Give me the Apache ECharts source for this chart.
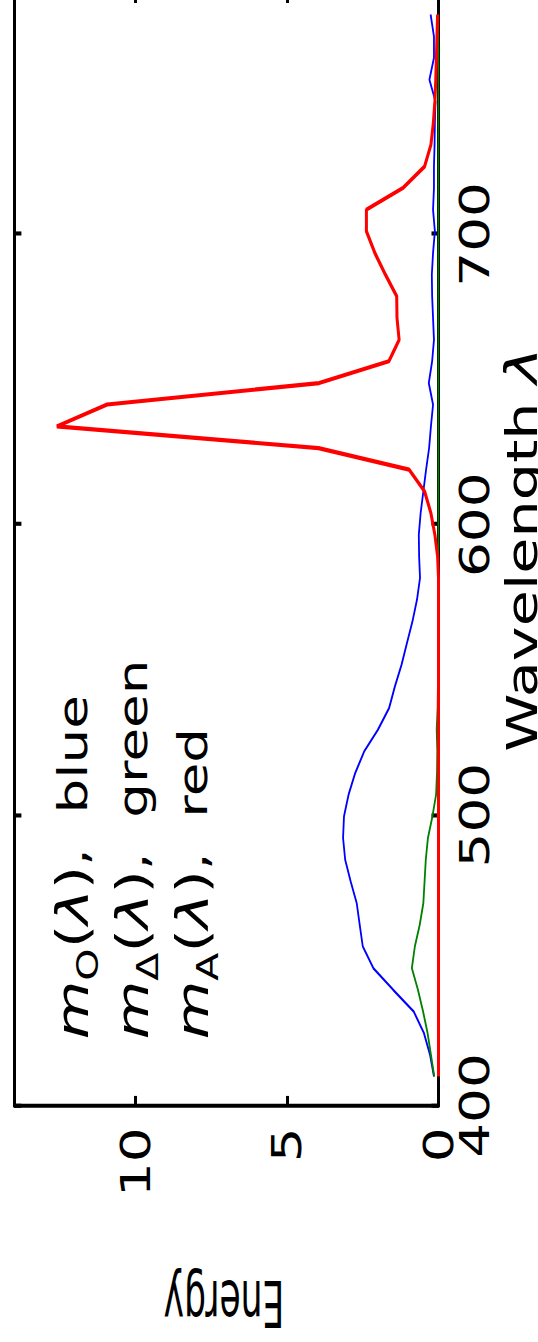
<!DOCTYPE html>
<html>
<head>
<meta charset="utf-8">
<script src="https://cdn.jsdelivr.net/npm/echarts@6/dist/echarts.min.js"></script>
<style>
  html, body { margin: 0; padding: 0; width: 538px; height: 1342px; overflow: hidden; background: #fff; }
  /* the figure is laid out landscape and turned a quarter turn counter-clockwise */
  #frame { position: absolute; left: 0; top: 0; width: 1342px; height: 538px; overflow: hidden;
           transform-origin: 0 0; transform: translate(0, 1342px) rotate(-90deg); }
  /* horizontally stretched figure */
  #chart { position: absolute; left: 0; top: 0; width: 980px; height: 538px;
           transform-origin: 0 0; transform: scaleX(1.3694); }
</style>
</head>
<body>
<div id="frame"><div id="chart"></div></div>
<script>
// sample wavelengths (nm)
const wavelengths = [
  410.0, 417.5, 424.9, 432.4, 439.9, 447.3, 454.8, 462.2, 469.7, 477.2,
  484.6, 492.1, 499.6, 507.0, 514.5, 522.0, 529.4, 536.9, 544.3, 551.8,
  559.3, 566.7, 574.2, 581.7, 589.1, 596.6, 604.0, 611.5, 619.0, 626.4,
  633.9, 641.4, 648.8, 656.3, 663.7, 671.2, 678.7, 686.1, 693.6, 701.1,
  708.5, 716.0, 723.4, 730.9, 738.4, 745.8, 753.3, 760.8, 768.2, 775.7
];
// m_O(λ), drawn in blue
const mBlue = [
  0.15, 0.28, 0.48, 0.82, 1.50, 2.15, 2.50, 2.60, 2.70, 2.90,
  3.08, 3.15, 3.12, 2.97, 2.75, 2.45, 2.00, 1.63, 1.44, 1.22,
  1.04, 0.86, 0.71, 0.61, 0.64, 0.65, 0.59, 0.50, 0.41, 0.31,
  0.25, 0.18, 0.32, 0.21, 0.15, 0.18, 0.21, 0.22, 0.18, 0.12,
  0.18, 0.15, 0.15, 0.13, 0.12, 0.10, 0.30, 0.15, 0.15, 0.26
];
// m_Δ(λ), drawn in green
const mGreen = [
  0.14, 0.25, 0.36, 0.51, 0.68, 0.88, 0.78, 0.62, 0.50, 0.46,
  0.42, 0.35, 0.20, 0.08, 0.05, 0.04, 0.06, 0.03, 0.02, 0.02,
  0.02, 0.01, 0.01, 0.00, 0.00, 0.00, 0.00, 0.00, 0.00, 0.00,
  0.00, 0.00, 0.00, 0.00, 0.00, 0.00, 0.00, 0.00, 0.00, 0.00,
  0.00, 0.00, 0.00, 0.00, 0.00, 0.00, 0.00, 0.00, 0.00, 0.00
];
// m_A(λ), drawn in red
const mRed = [
  0.00, 0.00, 0.00, 0.00, 0.00, 0.00, 0.00, 0.00, 0.00, 0.00,
  0.00, 0.00, 0.00, 0.00, 0.00, 0.00, 0.00, 0.00, 0.00, 0.00,
  0.00, 0.00, 0.00, 0.00, 0.03, 0.12, 0.25, 0.46, 0.97, 3.96,
  12.6, 10.94, 3.94, 1.64, 1.30, 1.37, 1.38, 1.75, 2.10, 2.38,
  2.38, 1.17, 0.46, 0.25, 0.17, 0.12, 0.09, 0.07, 0.05, 0.03
];

const FONT = 'DejaVu Sans';
const INK = '#000';

const frameLine = { show: true, onZero: false, lineStyle: { color: INK, width: 3 } };
const innerTick = { show: true, inside: true, length: 7, lineStyle: { color: INK, width: 3 } };
const tickFont = { fontSize: 40, fontFamily: FONT, color: INK };

function pairs(values) {
  return wavelengths.map((w, i) => [w, values[i]]);
}
function curve(values, color, width) {
  return {
    type: 'line', data: pairs(values), symbol: 'none', showSymbol: false,
    lineStyle: { color: color, width: width }, itemStyle: { color: color },
    emphasis: { disabled: true }, silent: true
  };
}

const chart = echarts.init(document.getElementById('chart'), null, { renderer: 'svg' });
chart.setOption({
  animation: false,
  backgroundColor: '#fff',
  grid: { left: 172.7, top: 14.4, width: 812.1, height: 424.1,
          containLabel: false, outerBoundsMode: 'none' },
  xAxis: [
    {
      type: 'value', position: 'bottom', min: 400, max: 783, interval: 100,
      axisLine: frameLine, axisTick: innerTick, splitLine: { show: false },
      axisLabel: Object.assign({ margin: 16, showMaxLabel: false }, tickFont),
      name: 'Wavelength {i|λ}', nameLocation: 'middle', nameGap: 55,
      nameTextStyle: { fontSize: 43, fontFamily: FONT, color: INK,
        rich: { i: { fontSize: 45, fontStyle: 'italic', fontFamily: FONT, color: INK } } }
    },
    {
      type: 'value', position: 'top', min: 400, max: 783, interval: 100,
      axisLine: frameLine, axisTick: innerTick, splitLine: { show: false },
      axisLabel: { show: false }
    }
  ],
  yAxis: [
    {
      type: 'value', position: 'left', min: 0, max: 14, interval: 5,
      axisLine: frameLine, axisTick: innerTick, splitLine: { show: false },
      axisLabel: Object.assign({ margin: 16, showMaxLabel: false }, tickFont)
    },
    {
      type: 'value', position: 'right', min: 0, max: 14, interval: 5,
      axisLine: frameLine, axisTick: innerTick, splitLine: { show: false },
      axisLabel: { show: false }
    }
  ],
  series: [
    curve(mBlue, '#0000ff', 1.8),
    curve(mGreen, '#008000', 1.8),
    curve(mRed, '#ff0000', 3)
  ],
  graphic: [
    {
      type: 'text', x: 28.1, y: 224, rotation: Math.PI / 2, scaleY: 1.365,
      style: { text: 'Energy', fontSize: 34.5, fontFamily: FONT, fill: INK,
               align: 'center', verticalAlign: 'middle',
               textAlign: 'center', textVerticalAlign: 'middle' }
    },
    {
      type: 'text', x: 221, y: 43,
      style: {
        text: [
          '{m|m}{s|O}{p|(}{l|λ}{p|)}{t|,  blue}',
          '{m|m}{s|Δ}{p|(}{l|λ}{p|)}{t|,  green}',
          '{m|m}{s|A}{p|(}{l|λ}{p|)}{t|,  red}'
        ].join('\n'),
        fill: INK, fontFamily: FONT, fontSize: 40,
        rich: {
          m: { fontSize: 44, fontStyle: 'italic', fontFamily: FONT, fill: INK, lineHeight: 60 },
          s: { fontSize: 30, fontFamily: FONT, fill: INK, lineHeight: 38, verticalAlign: 'bottom' },
          p: { fontSize: 44, fontFamily: FONT, fill: INK, lineHeight: 60 },
          l: { fontSize: 44, fontStyle: 'italic', fontFamily: FONT, fill: INK, lineHeight: 60 },
          t: { fontSize: 40, fontFamily: FONT, fill: INK, lineHeight: 60 }
        }
      }
    }
  ]
});
</script>
</body>
</html>
